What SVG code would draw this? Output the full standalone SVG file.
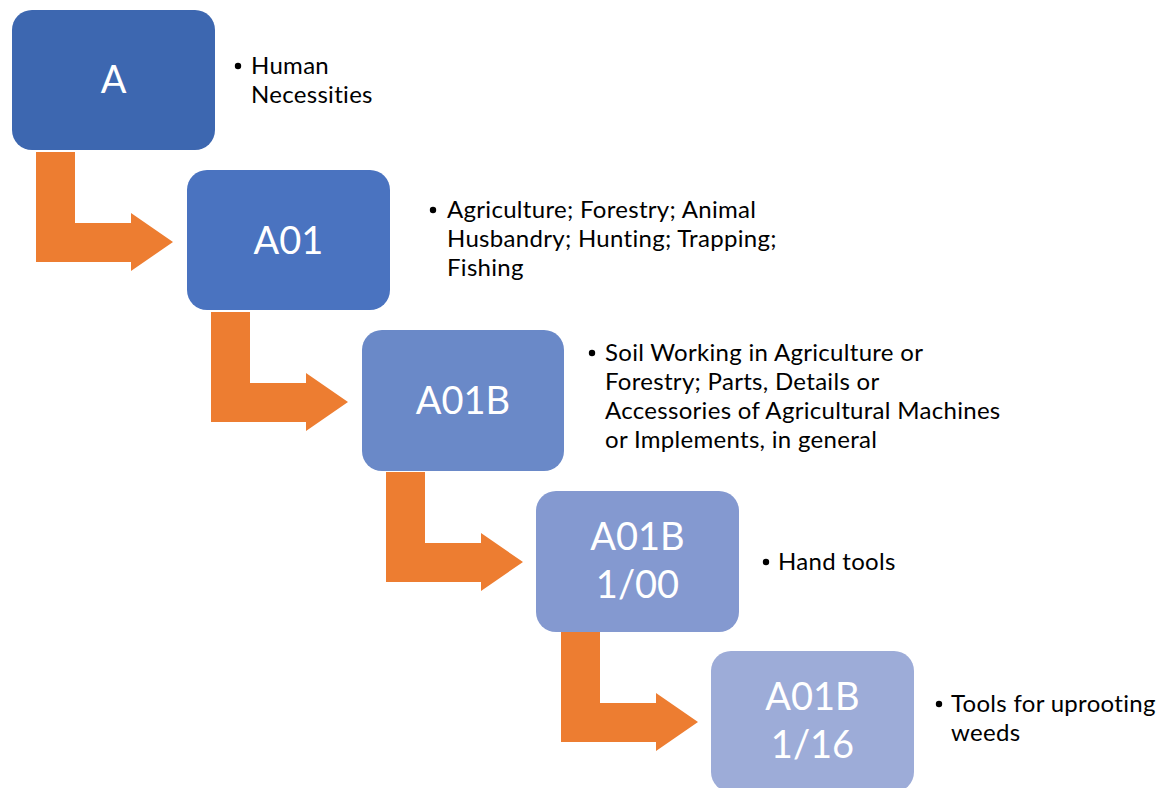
<svg xmlns="http://www.w3.org/2000/svg" width="1174" height="788" viewBox="0 0 1174 788">
<style>
.box{stroke:none}
.lbl{font-family:Lato,"Open Sans","Liberation Sans",sans-serif;font-size:38px;fill:#ffffff;text-anchor:middle;font-variant-ligatures:none}
.txt{font-family:Lato,"Open Sans","Liberation Sans",sans-serif;font-size:24px;letter-spacing:0.3px;fill:#000000;font-variant-ligatures:none}
.arrow{fill:#ED7D31}
</style>
<defs>
<path id="bent" d="M36,152 H75 V223 H131 V213 L173,242 L131,271 V262 H36 Z"/>
</defs>
<rect width="1174" height="788" fill="#ffffff"/>
<g id="connectors">
<use href="#bent" class="arrow"/>
<use href="#bent" class="arrow" transform="translate(175,160)"/>
<use href="#bent" class="arrow" transform="translate(350,320)"/>
<use href="#bent" class="arrow" transform="translate(525,480)"/>
</g>
<g id="node-A">
<rect class="box" x="12" y="10" width="203" height="140" rx="20" fill="#3D67B0"/>
<text class="lbl" x="113.5" y="93">A</text>
<circle cx="238" cy="66" r="3.2"/>
<text class="txt" x="251" y="74">Human</text>
<text class="txt" x="251" y="103">Necessities</text>
</g>
<g id="node-A01">
<rect class="box" x="187" y="170" width="203" height="140" rx="20" fill="#4A73C0"/>
<text class="lbl" x="288.5" y="254">A01</text>
<circle cx="433" cy="210" r="3.2"/>
<text class="txt" x="447" y="218">Agriculture; Forestry; Animal</text>
<text class="txt" x="447" y="247">Husbandry; Hunting; Trapping;</text>
<text class="txt" x="447" y="276">Fishing</text>
</g>
<g id="node-A01B">
<rect class="box" x="362" y="330" width="202" height="141" rx="20" fill="#6A89C8"/>
<text class="lbl" x="463" y="414">A01B</text>
<circle cx="592" cy="353" r="3.2"/>
<text class="txt" x="605" y="361">Soil Working in Agriculture or</text>
<text class="txt" x="605" y="390">Forestry; Parts, Details or</text>
<text class="txt" x="605" y="419">Accessories of Agricultural Machines</text>
<text class="txt" x="605" y="448">or Implements, in general</text>
</g>
<g id="node-A01B-1-00">
<rect class="box" x="536" y="491" width="203" height="141" rx="20" fill="#8499D0"/>
<text class="lbl" x="637.5" y="550">A01B</text>
<text class="lbl" x="637.5" y="598">1/00</text>
<circle cx="766" cy="562" r="3.2"/>
<text class="txt" x="778" y="570">Hand tools</text>
</g>
<g id="node-A01B-1-16">
<rect class="box" x="711" y="651" width="203" height="141" rx="20" fill="#9DACD8"/>
<text class="lbl" x="812.5" y="710">A01B</text>
<text class="lbl" x="812.5" y="758">1/16</text>
<circle cx="939" cy="704" r="3.2"/>
<text class="txt" x="951" y="712">Tools for uprooting</text>
<text class="txt" x="951" y="741">weeds</text>
</g>
</svg>
